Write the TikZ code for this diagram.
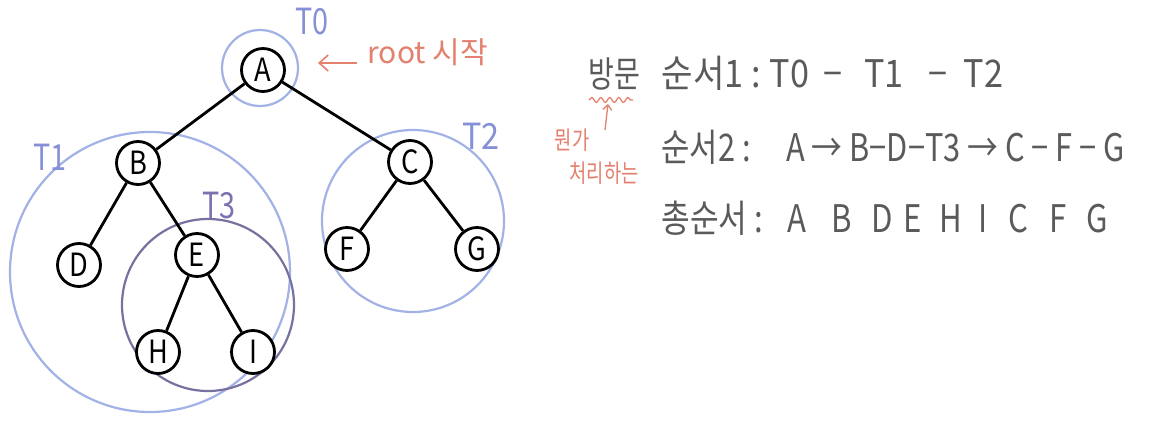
\documentclass[tikz,border=0pt]{standalone}
\usepackage{fontspec}
\setmainfont{Noto Sans CJK KR}
\usetikzlibrary{decorations.pathmorphing,arrows.meta}
\definecolor{tblue}{HTML}{A3B2E6}
\definecolor{tlab}{HTML}{8590D6}
\definecolor{tpurple}{HTML}{76719F}
\definecolor{tplab}{HTML}{7A72B2}
\definecolor{anno}{HTML}{E3806E}
\definecolor{txt}{HTML}{5A5A5A}
\newcommand{\nar}[2][0.8]{\scalebox{#1}[1]{#2}}
\tikzset{
  vert/.style={circle,draw=black,line width=2.8pt,fill=white,minimum size=43pt,inner sep=0pt,font=\fontsize{32}{32}\selectfont},
  edge/.style={line width=2.8pt,black},
  sub/.style={draw=tblue,line width=2.2pt},
  sublab/.style={text=tlab,font=\fontsize{36}{36}\selectfont},
  row/.style={text=txt,anchor=west,font=\fontsize{38}{38}\selectfont},
  annot/.style={text=anno,font=\fontsize{30}{30}\selectfont}
}
\begin{document}
\begin{tikzpicture}[x=1pt,y=-1pt]
\useasboundingbox[fill=white] (0,0) rectangle (1156,428);
% subtree circles
\coordinate (t0c) at (260,68);
\coordinate (t1c) at (150,272);
\coordinate (t2c) at (413,221);
\coordinate (t3c) at (208,305);
\draw[sub] (t0c) circle (38);
\draw[sub] (t1c) circle (140);
\draw[sub] (t2c) circle (91);
\draw[draw=tpurple,line width=2.2pt] (t3c) circle (86);
% labels
\node[sublab] (l0) at (312,22) {\nar{T0}};
\node[sublab] (l1) at (50,157) {\nar{T1}};
\node[sublab] (l2) at (481,136) {\nar[0.9]{T2}};
\node[sublab,text=tplab] (l3) at (219,206) {\nar{T3}};
% vertices
\coordinate (pA) at (263,70);
\coordinate (pB) at (138,163);
\coordinate (pC) at (410,162);
\coordinate (pD) at (79,265);
\coordinate (pE) at (197,255);
\coordinate (pF) at (347,249);
\coordinate (pG) at (477,249);
\coordinate (pH) at (158,352);
\coordinate (pI) at (253,352);
\node[vert] (A) at (pA) {\nar[0.85]{A}};
\node[vert] (B) at (pB) {\nar[0.85]{B}};
\node[vert] (C) at (pC) {\nar[0.85]{C}};
\node[vert] (D) at (pD) {\nar[0.85]{D}};
\node[vert] (E) at (pE) {\nar[0.85]{E}};
\node[vert] (F) at (pF) {\nar[0.85]{F}};
\node[vert] (G) at (pG) {\nar[0.85]{G}};
\node[vert] (H) at (pH) {\nar[0.85]{H}};
\node[vert] (I) at (pI) {\nar[0.85]{I}};
\draw[edge] (A) -- (B);
\draw[edge] (A) -- (C);
\draw[edge] (B) -- (D);
\draw[edge] (B) -- (E);
\draw[edge] (C) -- (F);
\draw[edge] (C) -- (G);
\draw[edge] (E) -- (H);
\draw[edge] (E) -- (I);
% root annotation
\coordinate (ra1) at (357,63);
\coordinate (ra2) at (318,63);
\draw[anno,line width=1.6pt,-{Straight Barb[length=9pt,width=16pt]}] (ra1) -- (ra2);
\node[annot,anchor=west] (root) at (364,52) {root 시작};
% visit annotation
\node[text=txt,font=\fontsize{36}{36}\selectfont] (visit) at (614,74) {\nar[0.78]{방문}};
\coordinate (w1) at (589,100);
\coordinate (w2) at (633,100);
\draw[anno,line width=1.3pt,decorate,decoration={snake,amplitude=2.5pt,segment length=9pt}] (w1) -- (w2);
\coordinate (va1) at (605,130);
\coordinate (va2) at (608,104);
\draw[anno,line width=1.3pt,-{Straight Barb[length=5pt,width=9pt]}] (va1) -- (va2);
\node[annot,font=\fontsize{25}{25}\selectfont] (m1) at (572,140) {\nar[0.75]{뭔가}};
\node[annot,font=\fontsize{25}{25}\selectfont] (m2) at (604,173) {\nar[0.75]{처리하는}};
% rows
\node[row] (r1) at (658,73) {\nar[0.9]{순서1 :\hspace{10pt}T0\hspace{16pt}−\hspace{24pt}T1\hspace{28pt}−\hspace{18pt}T2}};
\node[row] (r2) at (658,147) {\nar[0.81]{순서2 :\hspace{44pt}A → B−D−T3 → C − F − G}};
\node[row] (r3) at (658,218) {\nar[0.82]{총순서 :\hspace{30pt}A\hspace{30pt}B\hspace{24pt}D\hspace{13pt}E\hspace{21pt}H\hspace{20pt}I\hspace{26pt}C\hspace{25pt}F\hspace{25pt}G}};
\end{tikzpicture}
\end{document}
